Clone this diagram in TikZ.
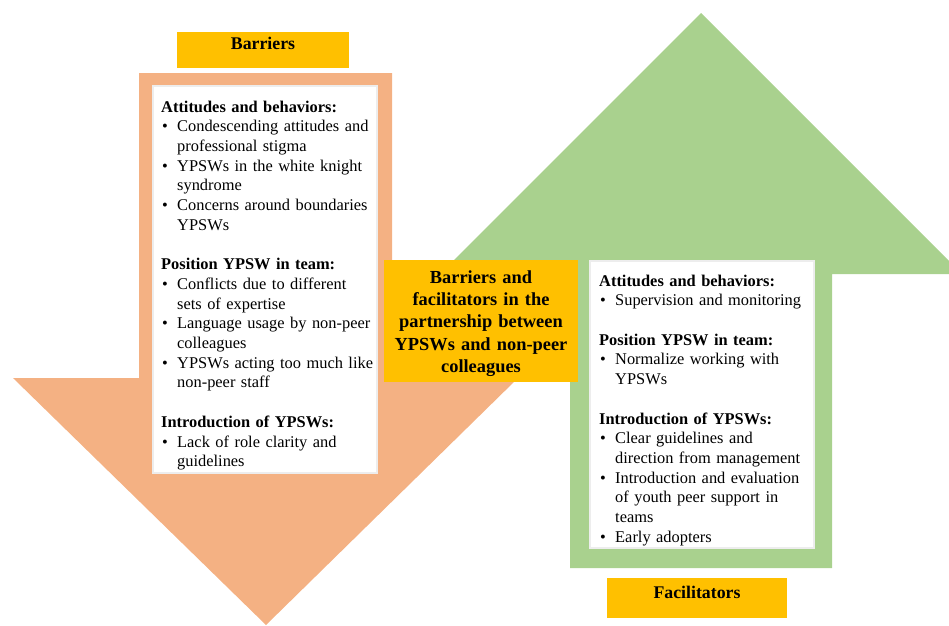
\documentclass[tikz,border=0pt]{standalone}
\usepackage{fontspec}
\usepackage{xcolor}
\usepackage{tikz}
\setmainfont{Liberation Serif}
\definecolor{barrierorange}{HTML}{F4B183}
\definecolor{facilgreen}{HTML}{A9D18E}
\definecolor{tagyellow}{HTML}{FFC000}
\setlength{\parskip}{0pt}
\newcommand*{\boxHead}[1]{\par\noindent\strut\textbf{#1}}
\newcommand*{\boxItem}[1]{\par\noindent\hangindent=16pt\hangafter=1\makebox[16pt][l]{\hspace{1pt}\textbullet}#1}
\newcommand*{\boxGap}{\par\vspace{19.7pt}}

\begin{document}
\begin{tikzpicture}[x=1pt,y=-1pt,
    listtext/.style={anchor=north west,inner sep=0pt,text width=230pt,
      execute at begin node=\raggedright,
      font=\fontsize{16.4}{19.7}\selectfont},
    tagtext/.style={anchor=base,inner sep=0pt,font=\fontsize{17.8}{21}\selectfont\bfseries},
    centretext/.style={anchor=north,inner sep=0pt,text width=190pt,align=center,
      font=\fontsize{18.4}{22.3}\selectfont\bfseries},
    whitebox/.style={fill=white,draw=black!7,line width=2pt}]
    \clip (0,0) rectangle (949,625);

    \fill [barrierorange] (139,73) -- (392,73) -- (392,378) -- (518,378)
      -- (266,625) -- (13,378) -- (139,378) -- cycle;
    \fill [facilgreen] (701,13) -- (962,274) -- (832,274) -- (832,568)
      -- (570,568) -- (570,274) -- (440,274) -- cycle;

    \fill [tagyellow] (177,32) rectangle (349,68);
    \fill [tagyellow] (607,578) rectangle (787,618);
    \fill [tagyellow] (384,260) rectangle (578,382);
    \filldraw [whitebox] (153,86) rectangle (377,473);
    \filldraw [whitebox] (590,261) rectangle (814,548);

    \node [tagtext] (barriers) at (263,49) {Barriers};
    \node [tagtext] (facilitators) at (697,598) {Facilitators};
    \node [centretext] (partnership) at (481,267.4) {\strut Barriers and\\
      facilitators in the\\ partnership between\\ YPSWs and non-peer\\ colleagues};

    \node [listtext] (barrierlist) at (161,92.2) {%
      \boxHead{Attitudes and behaviors:}
      \boxItem{Condescending attitudes and\newline professional stigma}
      \boxItem{YPSWs in the white knight\newline syndrome}
      \boxItem{Concerns around boundaries\newline YPSWs}
      \boxGap
      \boxHead{Position YPSW in team:}
      \boxItem{Conflicts due to different\newline sets of expertise}
      \boxItem{Language usage by non-peer\newline colleagues}
      \boxItem{YPSWs acting too much like\newline non-peer staff}
      \boxGap
      \boxHead{Introduction of YPSWs:}
      \boxItem{Lack of role clarity and\newline guidelines}\par};

    \node [listtext] (facilitatorlist) at (599,266.2) {%
      \boxHead{Attitudes and behaviors:}
      \boxItem{Supervision and monitoring}
      \boxGap
      \boxHead{Position YPSW in team:}
      \boxItem{Normalize working with\newline YPSWs}
      \boxGap
      \boxHead{Introduction of YPSWs:}
      \boxItem{Clear guidelines and\newline direction from management}
      \boxItem{Introduction and evaluation\newline of youth peer support in\newline teams}
      \boxItem{Early adopters}\par};
  \end{tikzpicture}
\end{document}
